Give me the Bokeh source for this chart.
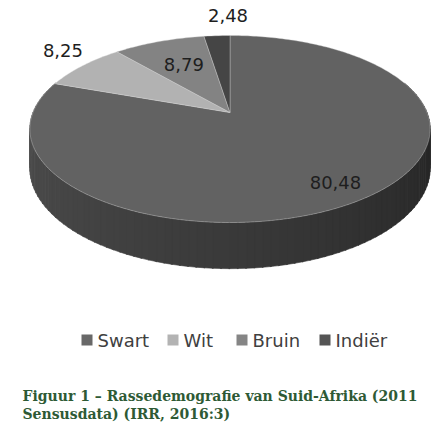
import numpy as np
from bokeh.plotting import figure
from bokeh.models import Range1d
from bokeh.core.properties import value
from bokeh.embed import file_html
from bokeh.resources import INLINE

# ---- data ----
categories = ["Swart", "Wit", "Bruin", "Indiër"]
shares = [80.48, 8.25, 8.79, 2.48]
labels = ["80,48", "8,25", "8,79", "2,48"]
top_colors = ["#626262", "#b2b2b2", "#838383", "#454545"]
legend_colors = ["#686868", "#b3b3b3", "#858585", "#555555"]
caption_lines = ["Figuur 1 – Rassedemografie van Suid-Afrika (2011",
                 "Sensusdata) (IRR, 2016:3)"]

# ---- layout constants ----
W, H = 434, 425
OFF = 8                # page margin compensation
CX, CY = 221.5, 104    # apex of the pie (figure px)
RX, A = 197, 90.6      # horizontal radius, vertical scale
B = 0.1765             # perspective factor
D = 38                 # side depth
label_k = [(0.93, 0.95), (1.03, 1.20), (0.56, 0.58), (0.13, 1.075)]
legend_sq_x = [73, 159, 228, 311]
legend_y = 331.5

p = figure(width=W, height=H, output_backend="svg", toolbar_location=None,
           x_range=Range1d(-OFF, W - OFF), y_range=Range1d(H - OFF, -OFF),
           min_border=0)
p.axis.visible = False
p.grid.visible = False
p.outline_line_color = None
p.background_fill_color = "white"


def proj(phi_deg, r=1.0, z=0.0):
    ph = np.radians(phi_deg)
    u = r * np.sin(ph)
    v = -r * np.cos(ph)
    s = 1.0 / (1.0 - B * v)
    return CX + RX * u * s, CY + A * v * s + D * s * z


# slice angles, clockwise from 12 o'clock
deg = np.array(shares) / sum(shares) * 360.0
starts = np.concatenate([[0], np.cumsum(deg)[:-1]])
ends = np.cumsum(deg)

# side of the pie (front part), drawn as gradient strips
step = 2.0
phis = np.arange(70, 290, step)
xs_side, ys_side, cols = [], [], []
for ph in phis:
    a0, a1 = ph, ph + step + 0.3
    x0t, y0t = proj(a0)
    x1t, y1t = proj(a1)
    x0b, y0b = proj(a0, z=1)
    x1b, y1b = proj(a1, z=1)
    xs_side.append([x0t, x1t, x1b, x0b])
    ys_side.append([y0t, y1t, y1b, y0b])
    t = np.clip((ph + step / 2 - 90) / 180.0, 0, 1)
    c = int(36 + t * 44)
    cols.append("#%02x%02x%02x" % (c, c, c))
p.patches(xs_side, ys_side, fill_color=cols, line_color=cols, line_width=0.6)

# top faces
xs_top, ys_top = [], []
for s0, e0 in zip(starts, ends):
    arc = np.linspace(s0, e0, max(int((e0 - s0) / 1.0), 4))
    ax, ay = proj(arc)
    xs_top.append(list(np.concatenate([[CX], ax, [CX]])))
    ys_top.append(list(np.concatenate([[CY], ay, [CY]])))
p.patches(xs_top, ys_top, fill_color=top_colors, line_color="#d8d8d8",
          line_width=0.6, line_alpha=0.6)

# data labels
mids = (starts + ends) / 2
lx, ly = [], []
for m, (kx, ky) in zip(mids, label_k):
    ph = np.radians(m)
    lx.append(CX + RX * kx * np.sin(ph))
    ly.append(CY + A * ky * (-np.cos(ph)))
p.text(x=lx, y=ly, text=labels, text_font=value("DejaVu Sans"),
       text_font_size="18px", text_color="#1e1e1e",
       text_align="center", text_baseline="middle")

# legend
p.rect(x=[x + 5.5 for x in legend_sq_x], y=[legend_y] * 4, width=11, height=11,
       fill_color=legend_colors, line_color=None)
p.text(x=[x + 16 for x in legend_sq_x], y=[legend_y + 0.5] * 4, text=categories,
       text_font=value("DejaVu Sans"), text_font_size="18px",
       text_color="#404040", text_align="left", text_baseline="middle")

# caption
p.text(x=[14, 14], y=[387, 405], text=caption_lines,
       text_font=value("DejaVu Serif"), text_font_size="14px",
       text_font_style="bold", text_color="#2e5a35",
       text_align="left", text_baseline="middle")

open("out.html", "w").write(file_html(p, INLINE))
